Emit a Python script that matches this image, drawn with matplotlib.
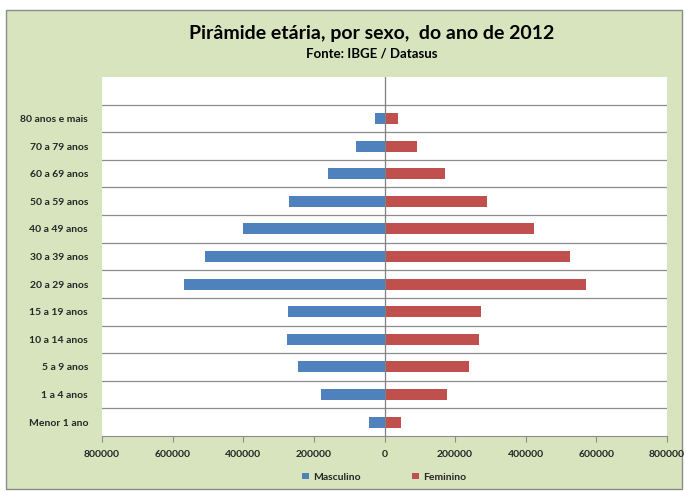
import matplotlib

matplotlib.use("Agg")
import matplotlib.pyplot as plt  # noqa: E402
from matplotlib.patches import Rectangle  # noqa: E402
from matplotlib.ticker import FuncFormatter  # noqa: E402

faixas = ["Menor 1 ano", "1 a 4 anos", "5 a 9 anos", "10 a 14 anos",
          "15 a 19 anos", "20 a 29 anos", "30 a 39 anos", "40 a 49 anos",
          "50 a 59 anos", "60 a 69 anos", "70 a 79 anos", "80 anos e mais"]
masculino = [45000, 181000, 246000, 275000, 273000, 569000, 507000, 401000,
             270000, 159000, 82000, 28000]
feminino = [46000, 178000, 239000, 268000, 273000, 570000, 526000, 422000,
            290000, 172000, 93000, 39000]
xticks = [-800000, -600000, -400000, -200000, 0, 200000, 400000, 600000, 800000]

plt.rcParams["font.family"] = ["Lato", "DejaVu Sans"]
txt = "#262626"

fig = plt.figure(figsize=(6.86, 4.91), dpi=100)
fig.patch.set_facecolor("white")
# green chart-area frame like Excel
fig.patches.append(Rectangle((6 / 686, 1 - 489 / 491), 676 / 686, 479 / 491,
                             transform=fig.transFigure, facecolor="#d7e4bd",
                             edgecolor="#8c8c8c", linewidth=1.0, zorder=-5))

ax = fig.add_axes([102 / 686, 1 - 436 / 491, 565 / 686, 359 / 491])
ax.set_facecolor("white")
y = list(range(len(faixas)))
ax.barh(y, [-v for v in masculino], height=0.4, color="#4f81bd",
        label="Masculino", zorder=3)
ax.barh(y, feminino, height=0.4, color="#c0504d", label="Feminino", zorder=3)

ax.set_xlim(-800000, 800000)
ax.set_ylim(-0.5, len(faixas) + 0.5)
for k in range(len(faixas)):
    ax.axhline(k + 0.5, color="#8c8c8c", linewidth=0.9, zorder=1)
ax.axvline(0, color="#7f7f7f", linewidth=0.9, zorder=4)

ax.set_xticks(xticks)
ax.xaxis.set_major_formatter(FuncFormatter(lambda v, _: f"{abs(int(v))}"))
ax.set_yticks(y, faixas)
ax.tick_params(axis="y", length=0, pad=10, labelsize=7.5, labelcolor=txt)
ax.tick_params(axis="x", length=4, color="#8c8c8c", pad=6, labelsize=7.5,
               labelcolor=txt)
for lab in ax.get_xticklabels() + ax.get_yticklabels():
    lab.set_fontweight("bold")
for s in ["top", "right", "left"]:
    ax.spines[s].set_visible(False)
ax.spines["bottom"].set_color("#8c8c8c")

fig.text(0.542, 1 - 33 / 491, "Pirâmide etária, por sexo,  do ano de 2012",
         ha="center", va="center", fontsize=14, fontweight="bold", color="black")
fig.text(0.542, 1 - 54 / 491, "Fonte: IBGE / Datasus", ha="center",
         va="center", fontsize=9.5, fontweight="bold", color="black")

leg = fig.legend(loc="center", bbox_to_anchor=(0.56, 1 - 477 / 491), ncol=2,
                 frameon=False, fontsize=7.5, handlelength=0.6,
                 handleheight=0.6, columnspacing=5, handletextpad=0.4)
for t in leg.get_texts():
    t.set_fontweight("bold")
    t.set_color(txt)

fig.savefig("out.png", dpi=100)
